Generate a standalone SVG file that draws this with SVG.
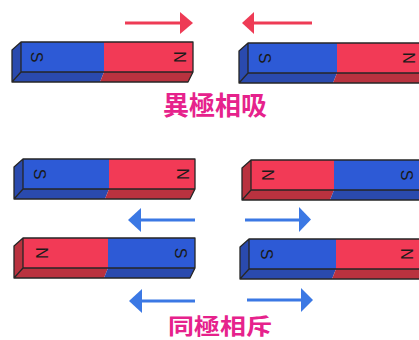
<svg xmlns="http://www.w3.org/2000/svg" width="419" height="340" viewBox="0 0 419 340">
  <style>
    .b { fill: #2d5ad6; }
    .r { fill: #f23a56; }
    .bd { fill: #2a4aae; }
    .rd { fill: #b9323f; }
    .edge { fill: none; stroke: #262626; stroke-width: 1.3; stroke-linejoin: round; }
    .pole { font-family: "Liberation Sans", Arial, sans-serif; font-size: 16px; fill: #1a1a1a; text-anchor: middle; dominant-baseline: central; }
    .title { font-family: "Noto Sans CJK SC", "Noto Sans CJK TC", sans-serif; font-size: 26px; font-weight: 700; fill: #e6228c; }
    .ar-r { stroke: #ee3b55; stroke-width: 3; fill: none; }
    .ar-b { stroke: #3b78e4; stroke-width: 3; fill: none; }
    .hd-r { fill: #ee3b55; }
    .hd-b { fill: #3b78e4; }
  </style>

  <rect width="419" height="340" fill="#ffffff"/>

  <!-- attraction: top pair -->
  <g id="magnet-a" transform="translate(21,42)">
    <polygon class="bd" points="0,0 -9,8 -9,40 0,30"/>
    <rect class="b" x="0" y="0" width="83" height="30"/>
    <rect class="r" x="83" y="0" width="89" height="30"/>
    <polygon class="bd" points="0,30 83,30 79,40 -9,40"/>
    <polygon class="rd" points="83,30 172,30 167,40 79,40"/>
    <path class="edge" d="M0,0H172V30L167,40H-9V8Z M0,0V30H172 M0,30L-9,40"/>
  </g>
  <g id="magnet-b" transform="translate(248,43)">
    <polygon class="bd" points="0,0 -9,8 -9,40 0,30"/>
    <rect class="b" x="0" y="0" width="89" height="30"/>
    <rect class="r" x="89" y="0" width="101" height="30"/>
    <polygon class="bd" points="0,30 89,30 85,40 -9,40"/>
    <polygon class="rd" points="89,30 190,30 185,40 85,40"/>
    <path class="edge" d="M0,0H190V30L185,40H-9V8Z M0,0V30H190 M0,30L-9,40"/>
  </g>

  <!-- repulsion: middle pair -->
  <g id="magnet-c" transform="translate(23,159)">
    <polygon class="bd" points="0,0 -9,8 -9,40 0,30"/>
    <rect class="b" x="0" y="0" width="86" height="30"/>
    <rect class="r" x="86" y="0" width="86" height="30"/>
    <polygon class="bd" points="0,30 86,30 82,40 -9,40"/>
    <polygon class="rd" points="86,30 172,30 167,40 82,40"/>
    <path class="edge" d="M0,0H172V30L167,40H-9V8Z M0,0V30H172 M0,30L-9,40"/>
  </g>
  <g id="magnet-d" transform="translate(251,160)">
    <polygon class="rd" points="0,0 -9,8 -9,40 0,30"/>
    <rect class="r" x="0" y="0" width="83" height="30"/>
    <rect class="b" x="83" y="0" width="107" height="30"/>
    <polygon class="rd" points="0,30 83,30 79,40 -9,40"/>
    <polygon class="bd" points="83,30 190,30 185,40 79,40"/>
    <path class="edge" d="M0,0H190V30L185,40H-9V8Z M0,0V30H190 M0,30L-9,40"/>
  </g>

  <!-- repulsion: bottom pair -->
  <g id="magnet-e" transform="translate(23,238)">
    <polygon class="rd" points="0,0 -9,8 -9,40 0,30"/>
    <rect class="r" x="0" y="0" width="85" height="30"/>
    <rect class="b" x="85" y="0" width="87" height="30"/>
    <polygon class="rd" points="0,30 85,30 81,40 -9,40"/>
    <polygon class="bd" points="85,30 172,30 167,40 81,40"/>
    <path class="edge" d="M0,0H172V30L167,40H-9V8Z M0,0V30H172 M0,30L-9,40"/>
  </g>
  <g id="magnet-f" transform="translate(249,239)">
    <polygon class="bd" points="0,0 -9,8 -9,40 0,30"/>
    <rect class="b" x="0" y="0" width="87" height="30"/>
    <rect class="r" x="87" y="0" width="103" height="30"/>
    <polygon class="bd" points="0,30 87,30 83,40 -9,40"/>
    <polygon class="rd" points="87,30 190,30 185,40 83,40"/>
    <path class="edge" d="M0,0H190V30L185,40H-9V8Z M0,0V30H190 M0,30L-9,40"/>
  </g>

  <!-- pole letters, printed sideways -->
  <g id="poles">
    <text class="pole" transform="translate(36,57) rotate(90)">S</text>
    <text class="pole" transform="translate(179,57) rotate(90)">N</text>
    <text class="pole" transform="translate(264,58) rotate(90)">S</text>
    <text class="pole" transform="translate(408,58) rotate(90)">N</text>
    <text class="pole" transform="translate(39,174) rotate(90)">S</text>
    <text class="pole" transform="translate(182,174) rotate(90)">N</text>
    <text class="pole" transform="translate(267,175) rotate(90)">N</text>
    <text class="pole" transform="translate(406,175) rotate(90)">S</text>
    <text class="pole" transform="translate(41,253) rotate(90)">N</text>
    <text class="pole" transform="translate(180,253) rotate(90)">S</text>
    <text class="pole" transform="translate(266,254) rotate(90)">S</text>
    <text class="pole" transform="translate(406,254) rotate(90)">N</text>
  </g>

  <!-- motion arrows -->
  <g id="arrows">
    <line class="ar-r" x1="125" y1="23" x2="182" y2="23"/>
    <polygon class="hd-r" points="180,12 193,23 180,34"/>
    <line class="ar-r" x1="252" y1="23" x2="312" y2="23"/>
    <polygon class="hd-r" points="254,12 242,23 254,34"/>

    <line class="ar-b" x1="139" y1="220" x2="195" y2="220"/>
    <polygon class="hd-b" points="141,208 128,220 141,232"/>
    <line class="ar-b" x1="245" y1="220" x2="301" y2="220"/>
    <polygon class="hd-b" points="299,207 311,219.5 299,232"/>

    <line class="ar-b" x1="140" y1="301" x2="195" y2="301"/>
    <polygon class="hd-b" points="142,289 129,301 142,313"/>
    <line class="ar-b" x1="247" y1="300" x2="303" y2="300"/>
    <polygon class="hd-b" points="301,288 313,300 301,312"/>
  </g>

  <!-- captions -->
  <text class="title" x="163" y="115">異極相吸</text>
  <text class="title" transform="translate(168,334) scale(1,0.85)">同極相斥</text>
</svg>
